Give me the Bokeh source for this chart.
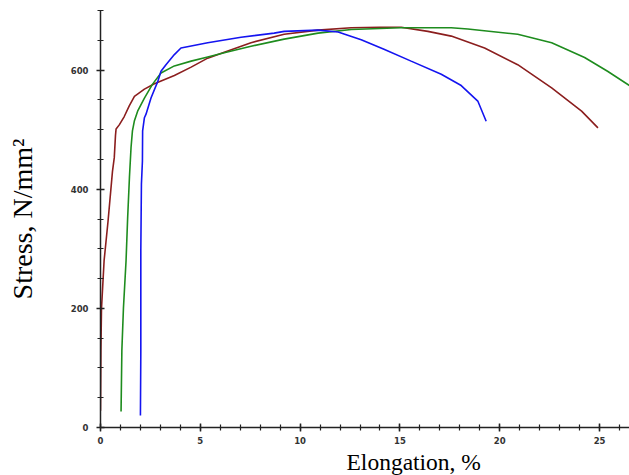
from bokeh.plotting import figure
from bokeh.models import FixedTicker, Range1d, Title
from bokeh.embed import file_html
from bokeh.resources import INLINE

# Brown specimen
brown_x = [0.0, 0.02, 0.05, 0.18, 0.38, 0.6, 0.69, 0.75, 0.78, 0.94, 1.19, 1.44, 1.70, 2.2, 2.7,
           3.7, 4.54, 5.37, 6.2, 7.54, 9.2, 10.9, 12.56, 14.0, 15.06, 16.4, 17.57, 19.24,
           20.9, 22.6, 24.1, 24.92]
brown_y = [28, 129, 200, 280, 347, 430, 453, 490, 501, 508, 522, 540, 556, 568, 577,
           591, 605, 620, 630, 646, 660, 667, 671, 672, 672, 665, 657, 637,
           609, 570, 531, 503]

# Green specimen
green_x = [1.03, 1.07, 1.15, 1.28, 1.36, 1.45, 1.53, 1.6, 1.7, 1.86, 2.2, 2.6, 3.03, 3.7,
           4.54, 5.37, 6.2, 7.54, 9.2, 10.9, 12.56, 15.06, 17.57, 18.4, 20.9, 22.6, 24.25,
           25.4, 26.54, 27.0]
green_y = [27, 129, 201, 280, 352, 420, 470, 498, 515, 531, 553, 576, 595, 607,
           615, 622, 629, 640, 652, 662, 668, 671, 671, 669, 660, 646, 621,
           598, 573, 562]

# Blue specimen
blue_x = [2.0, 2.02, 2.02, 2.05, 2.1, 2.11, 2.2, 2.28, 2.53, 2.87, 3.03, 3.28, 3.7, 4.03, 5.37,
          7.04, 8.7, 9.2, 10.9, 11.9, 13.06, 14.2, 15.56, 17.07, 18.07, 18.9, 19.32]
blue_y = [20, 129, 297, 409, 447, 498, 520, 526, 553, 581, 598, 609, 626, 637, 646,
          655, 662, 665, 667, 664, 651, 635, 615, 593, 574, 548, 514]

x_major = [0, 5, 10, 15, 20, 25]
x_minor = list(range(0, 27))
y_major = [0, 200, 400, 600]
y_minor = list(range(0, 701, 50))

p = figure(width=629, height=475, output_backend="svg", toolbar_location=None,
           x_range=Range1d(0, 26.5), y_range=Range1d(0, 700),
           min_border_left=100, min_border_right=0, min_border_top=10, min_border_bottom=48)
p.outline_line_color = None
p.xgrid.grid_line_color = None
p.ygrid.grid_line_color = None
p.background_fill_color = "white"
p.border_fill_color = "white"

p.line(brown_x, brown_y, line_color="#8B1E1E", line_width=1.6)
p.line(green_x, green_y, line_color="#1E8C1E", line_width=1.6)
p.line(blue_x, blue_y, line_color="#1414F0", line_width=1.6)

p.xaxis.ticker = FixedTicker(ticks=x_major, minor_ticks=x_minor)
p.yaxis.ticker = FixedTicker(ticks=y_major, minor_ticks=y_minor)
for ax in (p.xaxis, p.yaxis):
    ax.axis_line_color = "#222222"
    ax.axis_line_width = 1.5
    ax.major_tick_line_color = "#222222"
    ax.minor_tick_line_color = "#222222"
    ax.major_tick_line_width = 1.5
    ax.minor_tick_line_width = 1.2
    ax.major_tick_in = 4
    ax.major_tick_out = 4
    ax.minor_tick_in = 3
    ax.minor_tick_out = 3
    ax.major_label_text_font = "DejaVu Sans"
    ax.major_label_text_font_style = "bold"
    ax.major_label_text_font_size = "8.5px"
    ax.major_label_text_color = "#333333"
p.xaxis.major_label_standoff = 5
p.yaxis.major_label_standoff = 8

p.yaxis.axis_label = "Stress, N/mm\u00b2"
p.yaxis.axis_label_text_font = "Liberation Serif"
p.yaxis.axis_label_text_font_size = "28px"
p.yaxis.axis_label_text_font_style = "normal"
p.yaxis.axis_label_text_color = "black"
p.yaxis.axis_label_standoff = 30

p.add_layout(Title(text="Elongation, %", align="left", offset=246, standoff=0,
                   text_font="Liberation Serif", text_font_size="23.5px",
                   text_font_style="normal", text_color="black"), "below")

open("out.html", "w").write(file_html(p, INLINE))
